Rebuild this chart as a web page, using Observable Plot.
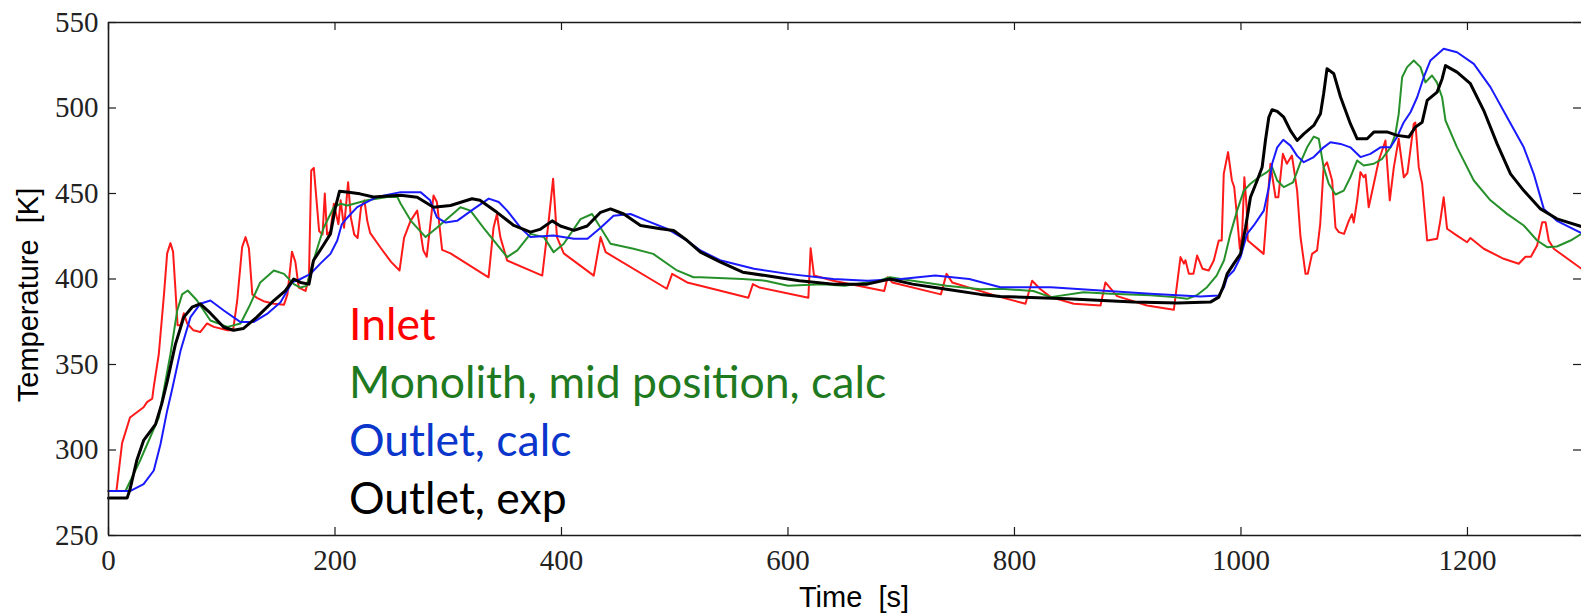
<!DOCTYPE html>
<html><head><meta charset="utf-8">
<script src="https://cdn.jsdelivr.net/npm/d3@7"></script>
<script src="https://cdn.jsdelivr.net/npm/@observablehq/plot@0.6"></script>
<style>
html,body{margin:0;padding:0;background:#fff;}
#wrap{position:relative;width:1581px;height:613px;overflow:hidden;}
#legend{position:absolute;left:349px;top:294px;font-family:Lato,"Open Sans",sans-serif;font-size:44.5px;line-height:58px;white-space:nowrap;}
</style></head>
<body><div id="wrap"><div id="chart"></div><div id="legend"></div></div>
<script>
// ---- data ----
const inletT = [0,7,12,19,31,34,38.6,40,44.4,49,51.8,54.7,57,59,61,63.6,66.5,69.5,75,81,87,93,105,110,113.6,118,121,124,127,131,137,146,155,158,162,165,168,174,177,179,181.3,183.7,186,189,191,193,196,199,203,205,208,211.6,214,217,220,223,226,228.5,231,240.6,249.5,257,261,266.7,272.6,278,281,287,290,294.6,302,335.6,340,343,346,352,383,388.7,392.6,396,402,428.5,434.5,439,493,497.7,511,522.7,565,569,575,618,620,623,640,685,688,692,735,740,745,787.6,809.7,815.6,823,832,852.4,876,880.3,890.6,917,940.7,946.6,949.6,951,954,958,961.3,966,971.5,976,980.4,983,984.8,988.6,992,994,996.6,999,1001,1003,1005,1006,1020,1026,1030.5,1033,1037,1040.5,1045,1049.6,1052.5,1057,1059,1062.8,1067.2,1070,1073,1076,1080.5,1083.5,1086.4,1091,1095.2,1098,1099.6,1102.6,1105.5,1108.4,1110,1112.8,1117.3,1121.7,1127.6,1131.4,1135,1139.3,1143.8,1147,1152.6,1154,1157,1160,1164.4,1173.2,1176,1179,1182,1190.8,1199.7,1202.6,1214.4,1232,1245.3,1251.2,1256,1261.5,1266,1269,1271.8,1276.2,1300.7];
const inletK = [276,276,304,319,325,328,330,337,356,391,415,421,416,395,373,373,380,374,370,369,374,372,370,370,387,418.6,424.5,418,391,389,387,385.5,385,391,416,410,395,393,401,463.5,465,446,428,426,450,426,428,444,432,446,430,456.6,436,426,424,442,446,434,427,418,410,405,424,434,440,416.7,413,448.8,445,417,415,401,430,438,424.5,410.8,402,434,458.6,424.5,415,402,424.5,415.7,394.3,403,398,396,389,397,395,389,418,402,399,393,401,398,391,403,398,389.4,385.5,399,394,389.4,385.5,384.5,398,390,384.5,382,412.8,409,411,403,403,413.7,406,405,410.8,422.5,422.5,461.5,474.2,457.6,453.8,436,417.7,426,459.5,442,422.5,414.7,467.4,447.8,447.8,473.2,467.4,472.2,451.7,425,403,403,414.7,416.7,432.3,465.4,468.3,457.6,430,427.4,426.4,434,437.9,433,446,462.5,459.5,461,442,455.7,469.3,481,446,465.4,482,459.5,462,490.8,491.5,465.4,455.7,422.5,423.5,434,447.8,429.4,425.4,421.5,424,417.7,411.8,408.9,413,413,419.6,433.2,433.2,422.5,417.7,406];

const monoT = [0,15,28,44.4,54.7,60.7,65,70,78,90,105,116.6,124,134,146,155,163.6,169.5,175,181,190,199,205,211,228.4,246,255,258,267,280,290,310.8,319.6,331,352,361,372.6,384.5,393,402,416.8,427,434.5,443.3,463.6,481,502,516.6,522.7,560,580,600,630,650,680,690,710,740,770,787.6,816.6,832,861,884.8,920,940.7,952.5,961,970,978.5,985,990.7,996.6,1002.5,1008.4,1015.7,1023,1027.5,1032,1037.8,1046,1052.5,1058.4,1064.3,1068.7,1073,1077.5,1083.5,1090.8,1096.6,1102.6,1108.4,1117.3,1124.7,1132,1136.4,1139.3,1142.3,1146.7,1152.6,1158.5,1162.9,1165.8,1168.7,1173,1177.6,1180.6,1190.8,1205.6,1220.3,1235,1249.7,1261.5,1270.4,1279,1291,1300.7];
const monoK = [276,276,294,319,356,381.6,391,393.3,387.6,375.7,372,374,383.6,398,405,403,397,395,396,410.8,430,442,444,443,446,448,448,444,434,424.5,430,442,440,430,412.8,416.7,426.4,424.5,415.7,420.6,435,438,430,420.6,417.7,414.7,405,401,401,400,399,396,397,396,399,401,399,396,394,394.3,393,389.4,392.3,391.4,390.5,389.4,388.4,390.5,395.2,402,410.8,426.4,440,451.7,455.7,459.5,462.5,465.4,457.6,453.7,456.5,468,477,483.3,482,465.4,455.7,449.4,451.7,459.5,469.3,466.4,467.4,470.3,477,484.8,496.6,518,523.9,527.8,523.9,515,517,519,515,506.3,492.7,477,457.6,446,438.1,431.3,422.5,418.6,419,422.5,426.4];

const outCalcT = [0,19,31,40,45.9,51.8,56,63.6,72.4,81,90,101.8,116.6,128,140,151.9,162,169.5,178,187,196,202,206,211,219.6,237,258,275.5,284,290,297.6,307.8,322.6,335.8,344.6,352,363.8,372.6,393,411,423,434.5,446,461,475.6,493,511,522.7,540,570,600,640,670,700,730,760,787.6,832,876,920,964,980.4,985,987.8,993.7,999.6,1005.4,1011.3,1020.2,1024.6,1027.5,1032,1037.3,1043.7,1049.6,1055.5,1064.3,1073,1079,1088,1096.6,1105.5,1114.3,1123.2,1132,1137.8,1143.8,1149.7,1155.6,1161.4,1167.3,1179,1190.8,1205.6,1220.3,1235,1249.7,1258.5,1267.4,1279,1300.7];
const outCalcK = [276,276,280,288,303.4,323,335,358,377.7,385.5,387.4,381.6,374.8,374.8,379.6,386.4,398,400,402.8,409,414.7,422.5,432,436,442,448,450.8,450.8,446,436,433,434,441,447,445,440,430,424.5,425.4,423.5,423.5,430,437,438,434,429.4,422.5,416.7,411,406,403,400,399,400,402,400,395.2,395.2,393.3,391.4,389.8,390.4,395.2,401,405,412.8,426.4,431.3,440,453.7,467.4,477,481.4,478,472,468.3,471.3,477,480,479,477,471.3,473.2,477,477,483,491.7,497.5,506.3,518,527.8,534.6,532.6,525.8,512.2,494.6,477,461.5,441,434,426.8];

const outExpT = [0,16.5,19,25,31,41.5,47,51.8,59,66.5,73.8,81,90,101.8,110.5,119,131,146,156,163.6,169.5,177,181,188.6,196,200.4,204,212,222,234,258,272.6,287,302,321,328,343,357.9,372.6,381,391.8,399,411,422.7,434.5,443.3,455,469.8,487.4,499,511,522.7,540,560,580,610,640,670,690,710,740,770,787.6,846.5,905,944,973,980.4,984.2,987.8,993.7,999.6,1004,1008.4,1014.3,1018.7,1021.6,1024.6,1027.5,1032,1037.8,1043.7,1049.6,1055.5,1064.3,1070.2,1073,1076,1082,1088,1096.6,1102.6,1111.4,1117.3,1129,1137.8,1148.2,1154,1160,1164.4,1173.2,1177.6,1180.6,1190.8,1202.6,1214.4,1226.2,1238,1249.7,1264.5,1279,1300.7];
const outExpK = [272,272,277,294,305.6,315,327,340,361.6,377.7,383.5,385.5,380,371.8,370,371,377.7,387.4,393,400,398,397,410.8,418.6,426.4,442,451.3,450.7,449.8,448,449,447.8,442,443,446.9,446,439,431.3,427.4,429,434,431,428.4,431,439,441,438,431.3,429.4,428.4,422.5,415.7,410,404,402,399,397,397,400,397,394,391,389.8,388.4,386.5,386,386.5,389.4,395.2,403,409,414.7,430,447.8,457.6,465.4,481,494.6,499,498,494.6,486.8,481,484.9,489.8,496.6,508.3,523,520,506.3,490.8,482,482,485.9,486,484,483,488.8,491.7,504.4,509.3,517,524.8,521,514.2,498.5,479,461.5,451.7,441,435.2,430.7];

const xTicks = [0,200,400,600,800,1000,1200];
const yTicks = [250,300,350,400,450,500,550];
const xDomain = [0, 1300.7];
const yDomain = [250, 550];

const seriesNames = ["Inlet", "Monolith, mid position, calc", "Outlet, calc", "Outlet, exp"];
const lineColors = ["#ff1a1a", "#26912a", "#1a1aff", "#000000"];
const textColors = ["#ff0000", "#1f7a1f", "#0a36cc", "#000000"];
const xLabel = "Time\u00a0\u00a0[s]";
const yLabel = "Temperature\u00a0\u00a0[K]";

// ---- build tables ----
const toRows = (T, K) => T.map((t, i) => ({t, k: K[i]}));
const inlet = toRows(inletT, inletK);
const mono = toRows(monoT, monoK);
const outCalc = toRows(outCalcT, outCalcK);
const outExp = toRows(outExpT, outExpK);

const serif = "'Liberation Serif', 'DejaVu Serif', serif";
const sans = "'Liberation Sans', Arial, sans-serif";
const axisCol = "#1a1a1a";

const W = 1581, H = 613, mL = 108, mR = 0, mT = 22, mB = 78;
const plotW = W - mL - mR, plotH = H - mT - mB;
const tickLen = 8;

const chart = Plot.plot({
  width: W,
  height: H,
  marginLeft: mL,
  marginRight: mR,
  marginTop: mT,
  marginBottom: mB,
  x: {domain: xDomain, axis: null},
  y: {domain: yDomain, axis: null},
  style: {background: "#fff", overflow: "hidden"},
  marks: [
    Plot.line(inlet, {x: "t", y: "k", stroke: lineColors[0], strokeWidth: 2}),
    Plot.line(mono, {x: "t", y: "k", stroke: lineColors[1], strokeWidth: 2}),
    Plot.line(outCalc, {x: "t", y: "k", stroke: lineColors[2], strokeWidth: 2}),
    Plot.line(outExp, {x: "t", y: "k", stroke: lineColors[3], strokeWidth: 3}),
    // frame (left, top, bottom spines)
    Plot.ruleX([xDomain[0]], {stroke: axisCol, strokeWidth: 1.6}),
    Plot.ruleY(yDomain, {stroke: axisCol, strokeWidth: 1.6}),
    // inward ticks (bottom, top, left, right)
    Plot.tickX(xTicks, {x: d => d, insetTop: plotH - tickLen, stroke: axisCol, strokeWidth: 1.2}),
    Plot.tickX(xTicks, {x: d => d, insetBottom: plotH - tickLen, stroke: axisCol, strokeWidth: 1.2}),
    Plot.tickY(yTicks, {y: d => d, insetRight: plotW - tickLen, stroke: axisCol, strokeWidth: 1.2}),
    Plot.tickY(yTicks, {y: d => d, insetLeft: plotW - tickLen, stroke: axisCol, strokeWidth: 1.2}),
    // tick labels
    Plot.axisX({ticks: xTicks, tickSize: 0, tickPadding: 14, tickFormat: d => String(d), fontFamily: serif, fontSize: 29, fill: "#222", label: null}),
    Plot.axisY({ticks: yTicks, tickSize: 0, tickPadding: 10, tickFormat: d => String(d), fontFamily: serif, fontSize: 29, fill: "#222", label: null}),
    // axis labels
    Plot.text([xLabel], {text: d => d, frameAnchor: "bottom", textAnchor: "middle", dy: 71, dx: 9, fontFamily: sans, fontSize: 29, fill: "#000"}),
    Plot.text([yLabel], {text: d => d, frameAnchor: "left", textAnchor: "middle", dx: -80, dy: 16, rotate: -90, fontFamily: sans, fontSize: 29, fill: "#000"})
  ]
});
document.getElementById("chart").appendChild(chart);

const legend = document.getElementById("legend");
seriesNames.forEach((name, i) => {
  const d = document.createElement("div");
  d.textContent = name;
  d.style.color = textColors[i];
  legend.appendChild(d);
});
</script>
</body></html>
